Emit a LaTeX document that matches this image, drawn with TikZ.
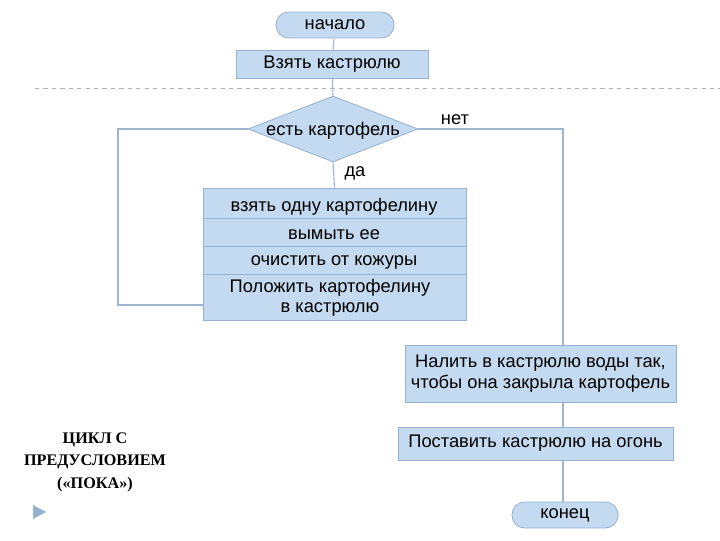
\documentclass[tikz,border=0pt]{standalone}
\usepackage{fontspec}
\setmainfont{Liberation Sans}
\newfontfamily\serifb{Liberation Serif}
\usetikzlibrary{shapes.geometric}
\definecolor{bfill}{RGB}{196,218,240}
\definecolor{bline}{RGB}{150,178,210}
\definecolor{cline}{RGB}{160,180,205}
\begin{document}
\begin{tikzpicture}[x=0.025cm,y=-0.025cm,
  box/.style={draw=bline,fill=bfill,line width=0.6pt,inner sep=0pt},
  term/.style={box,rounded corners=9pt},
  conn/.style={draw=cline,line width=0.8pt},
  lbl/.style={font=\fontsize{13}{14.5}\selectfont}]
\useasboundingbox (0,0) rectangle (720,540);
\draw[gray!60,dashed] (35,88) -- (720,88);
\node[term,minimum width=118*0.025cm,minimum height=26*0.025cm,lbl] (start) at (335,25) {начало};
\node[box,minimum width=192*0.025cm,minimum height=28*0.025cm,lbl] (take) at (332,64) {Взять кастрюлю};
\node[box,diamond,aspect=2.6,minimum width=170*0.025cm,minimum height=66*0.025cm,lbl] (dec) at (333,129) {};
\node[lbl] (dect) at (333,131) {есть картофель};
\node[lbl] (net) at (455,120) {нет};
\node[lbl] (da) at (355,173) {да};
\node[box,minimum width=263*0.025cm,minimum height=132*0.025cm] (body) at (334.5,254) {};
\draw[bline,line width=0.6pt] (203,218) -- (466,218) (203,246) -- (466,246) (203,274) -- (466,274);
\node[lbl] (b1) at (334,207) {взять одну картофелину};
\node[lbl] (b2) at (334,235) {вымыть ее};
\node[lbl] (b3) at (334,262) {очистить от кожуры};
\node[lbl,align=center] (b4) at (330,298) {Положить картофелину\\в кастрюлю};
\coordinate (l1) at (203,305); \coordinate (l2) at (118,305); \coordinate (l3) at (118,129);
\coordinate (r1) at (563,129);
\node[term,minimum width=106*0.025cm,minimum height=26*0.025cm,lbl] (end) at (565,515) {конец};
\draw[conn] (l1) -- (l2) -- (l3) -- (dec.west);
\draw[conn] (dec.east) -- (r1) -- (563,502);
\node[box,minimum width=271*0.025cm,minimum height=57*0.025cm,lbl,align=center] (pour) at (540.5,373.5) {Налить в кастрюлю воды так,\\чтобы она закрыла картофель};
\node[box,minimum width=275*0.025cm,minimum height=33*0.025cm,lbl] (fire) at (535.5,443.5) {Поставить кастрюлю на огонь};
\draw[conn] (start) -- (take);
\draw[conn] (take) -- (dec.north);
\draw[conn] (dec.south) -- (body.north);
\node[font=\serifb\bfseries\fontsize{11.5}{16}\selectfont,align=center] (cap) at (95,462) {ЦИКЛ С\\ПРЕДУСЛОВИЕМ\\(«ПОКА»)};
\fill[bline] (33,505) -- (46,512) -- (33,519) -- cycle;
\end{tikzpicture}
\end{document}
